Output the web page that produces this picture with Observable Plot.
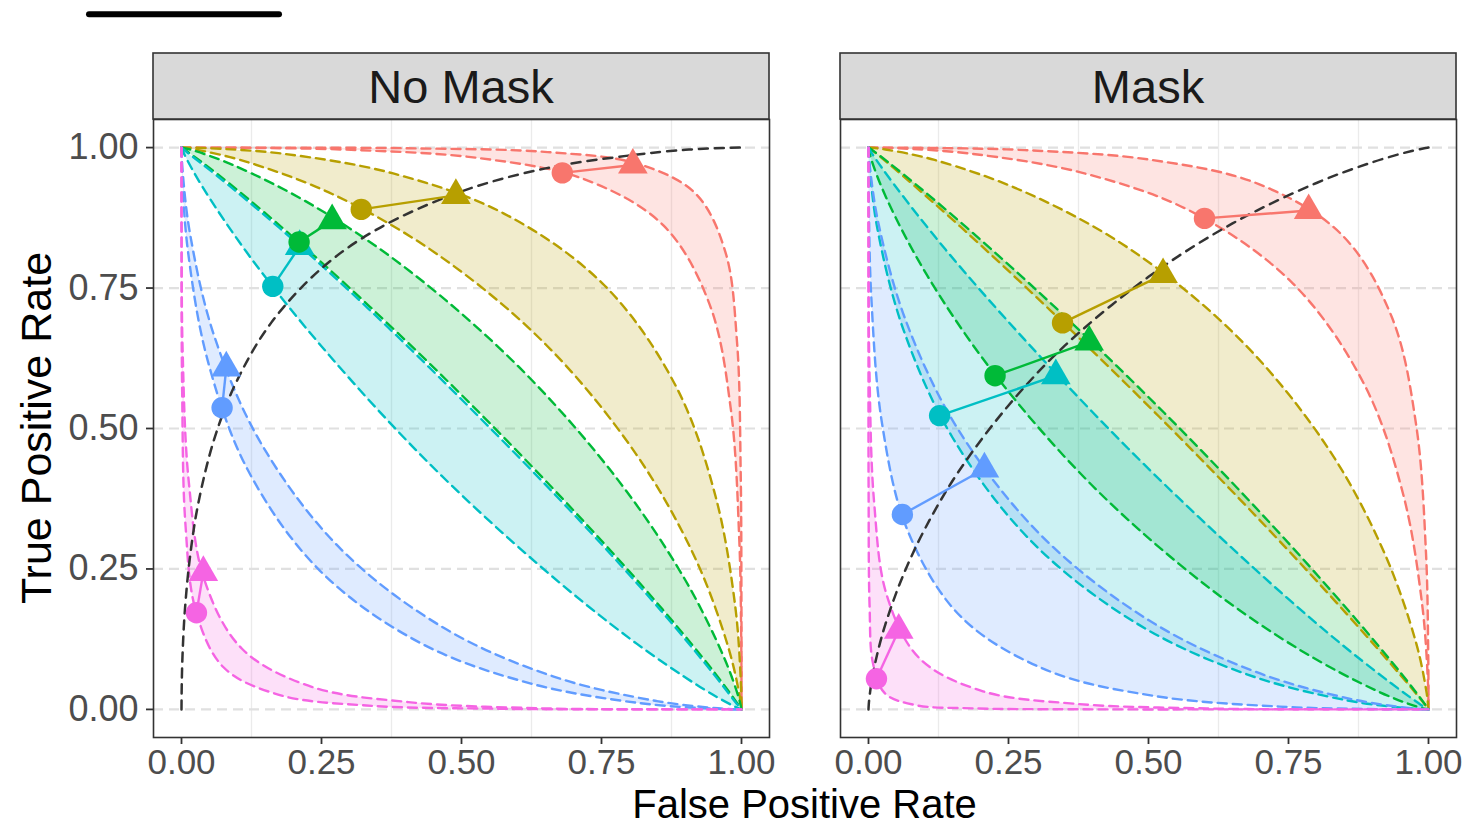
<!DOCTYPE html>
<html>
<head>
<meta charset="utf-8">
<script src="https://cdn.jsdelivr.net/npm/d3@7"></script>
<script src="https://cdn.jsdelivr.net/npm/@observablehq/plot@0.6"></script>
<style>
html, body { margin: 0; padding: 0; background: #ffffff; }
#chart { width: 1473px; height: 827px; }
</style>
</head>
<body>
<div id="chart"></div>
<script>
// ---------- data ----------
const facets = ["No Mask", "Mask"];
const groups = ["g1", "g2", "g3", "g4", "g5", "g6"];
const palette = ["#F8766D", "#B79F00", "#00BA38", "#00BFC4", "#619CFF", "#F564E3"];
const xTicks = [0, 0.25, 0.5, 0.75, 1];
const yTicks = [0, 0.25, 0.5, 0.75, 1];
const xMinor = [0.125, 0.375, 0.625, 0.875];
const xTitle = "False Positive Rate";
const yTitle = "True Positive Rate";

// band edges, No Mask (lower edge, then upper edge), one curve per group
const noMaskLower = [
  [[0,1],[0.017,1],[0.112,0.9996],[0.303,0.996],[0.534,0.981],[0.721,0.943],[0.861,0.861],[0.943,0.721],[0.981,0.534],[0.996,0.303],[0.9996,0.112],[1,0.017],[1,0]],
  [[0,1],[0.0025,0.9998],[0.028,0.996],[0.112,0.976],[0.270,0.917],[0.454,0.812],[0.650,0.650],[0.812,0.454],[0.917,0.270],[0.976,0.112],[0.996,0.028],[0.9998,0.0025],[1,0]],
  [[0,1],[0.0009,0.9995],[0.013,0.991],[0.064,0.953],[0.178,0.859],[0.336,0.717],[0.530,0.530],[0.717,0.336],[0.859,0.178],[0.953,0.064],[0.991,0.013],[0.9995,0.0009],[1,0]],
  [[0,1],[0.0004,0.9989],[0.007,0.984],[0.040,0.926],[0.125,0.802],[0.258,0.637],[0.440,0.440],[0.637,0.258],[0.802,0.125],[0.926,0.040],[0.984,0.007],[0.9989,0.0004],[1,0]],
  [[0,1],[0.00005,0.994],[0.0014,0.947],[0.011,0.820],[0.046,0.624],[0.118,0.427],[0.247,0.247],[0.427,0.118],[0.624,0.046],[0.820,0.011],[0.947,0.0014],[0.994,0.00005],[1,0]],
  [[0,1],[0,0.961],[0.0001,0.805],[0.0012,0.564],[0.007,0.330],[0.026,0.174],[0.075,0.075],[0.174,0.026],[0.330,0.007],[0.564,0.0012],[0.805,0.0001],[0.961,0],[1,0]]
];
const noMaskUpper = [
  [[0,1],[0.036,1],[0.183,0.9999],[0.419,0.9986],[0.654,0.992],[0.815,0.971],[0.918,0.918],[0.971,0.815],[0.992,0.654],[0.9986,0.419],[0.9999,0.183],[1,0.036],[1,0]],
  [[0,1],[0.006,1],[0.054,0.9986],[0.182,0.989],[0.378,0.954],[0.575,0.883],[0.755,0.755],[0.883,0.575],[0.954,0.378],[0.989,0.182],[0.9986,0.054],[1,0.006],[1,0]],
  [[0,1],[0.0017,0.9997],[0.021,0.995],[0.092,0.969],[0.233,0.898],[0.409,0.779],[0.606,0.606],[0.779,0.409],[0.898,0.233],[0.969,0.092],[0.995,0.021],[0.9997,0.0017],[1,0]],
  [[0,1],[0.0008,0.9994],[0.012,0.990],[0.062,0.951],[0.175,0.857],[0.333,0.714],[0.526,0.526],[0.714,0.333],[0.857,0.175],[0.951,0.062],[0.990,0.012],[0.9994,0.0008],[1,0]],
  [[0,1],[0.0001,0.996],[0.002,0.958],[0.015,0.848],[0.058,0.666],[0.143,0.472],[0.285,0.285],[0.472,0.143],[0.666,0.058],[0.848,0.015],[0.958,0.002],[0.996,0.0001],[1,0]],
  [[0,1],[0,0.975],[0.0002,0.855],[0.002,0.640],[0.013,0.405],[0.041,0.230],[0.108,0.108],[0.230,0.041],[0.405,0.013],[0.640,0.002],[0.855,0.0002],[0.975,0],[1,0]]
];
// band edges, Mask
const maskLower = [
  [[0,1],[0.006,1],[0.055,0.9987],[0.184,0.989],[0.382,0.955],[0.579,0.885],[0.758,0.758],[0.885,0.579],[0.955,0.382],[0.989,0.184],[0.9987,0.055],[1,0.006],[1,0]],
  [[0,1],[0.0008,0.9994],[0.012,0.991],[0.061,0.950],[0.171,0.853],[0.326,0.709],[0.520,0.520],[0.709,0.326],[0.853,0.171],[0.950,0.061],[0.991,0.012],[0.9994,0.0008],[1,0]],
  [[0,1],[0.0003,0.9984],[0.005,0.979],[0.032,0.910],[0.105,0.772],[0.225,0.597],[0.399,0.399],[0.597,0.225],[0.772,0.105],[0.910,0.032],[0.979,0.005],[0.9984,0.0003],[1,0]],
  [[0,1],[0.0001,0.996],[0.0023,0.961],[0.016,0.855],[0.062,0.677],[0.150,0.484],[0.295,0.295],[0.484,0.150],[0.677,0.062],[0.855,0.016],[0.961,0.0023],[0.996,0.0001],[1,0]],
  [[0,1],[0,0.987],[0.0005,0.907],[0.005,0.734],[0.024,0.510],[0.070,0.318],[0.165,0.165],[0.318,0.070],[0.510,0.024],[0.734,0.005],[0.907,0.0005],[0.987,0],[1,0]],
  [[0,1],[0,0.904],[0,0.657],[0.0002,0.384],[0.0019,0.186],[0.008,0.082],[0.029,0.029],[0.082,0.008],[0.186,0.0019],[0.384,0.0002],[0.657,0],[0.904,0],[1,0]]
];
const maskUpper = [
  [[0,1],[0.0145,1],[0.100,0.9995],[0.279,0.9955],[0.506,0.978],[0.697,0.935],[0.845,0.845],[0.935,0.697],[0.978,0.506],[0.9955,0.279],[0.9995,0.100],[1,0.0145],[1,0]],
  [[0,1],[0.0027,0.9998],[0.030,0.9966],[0.118,0.978],[0.279,0.921],[0.466,0.820],[0.661,0.661],[0.820,0.466],[0.921,0.279],[0.978,0.118],[0.9966,0.030],[0.9998,0.0027],[1,0]],
  [[0,1],[0.0009,0.9995],[0.013,0.991],[0.063,0.952],[0.176,0.857],[0.334,0.715],[0.528,0.528],[0.715,0.334],[0.857,0.176],[0.952,0.063],[0.991,0.013],[0.9995,0.0009],[1,0]],
  [[0,1],[0.0005,0.9991],[0.0085,0.986],[0.046,0.934],[0.138,0.818],[0.278,0.659],[0.464,0.464],[0.659,0.278],[0.818,0.138],[0.934,0.046],[0.986,0.0085],[0.9991,0.0005],[1,0]],
  [[0,1],[0.0001,0.9965],[0.0026,0.964],[0.018,0.864],[0.067,0.691],[0.159,0.5],[0.309,0.309],[0.5,0.159],[0.691,0.067],[0.864,0.018],[0.964,0.0026],[0.9965,0.0001],[1,0]],
  [[0,1],[0,0.969],[0.0001,0.832],[0.0017,0.604],[0.010,0.369],[0.033,0.202],[0.091,0.091],[0.202,0.033],[0.369,0.010],[0.604,0.0017],[0.832,0.0001],[0.969,0],[1,0]]
];

// black dashed reference curves
const noMaskRoc = [[0,0],[0.0005,0.048],[0.002,0.101],[0.006,0.176],[0.015,0.270],[0.03,0.367],[0.06,0.486],[0.1,0.587],[0.16,0.688],[0.25,0.785],[0.35,0.855],[0.5,0.922],[0.65,0.963],[0.8,0.986],[0.9,0.996],[0.97,0.9993],[1,1]];
const maskRoc = [[0,0],[0.0005,0.009],[0.002,0.024],[0.006,0.052],[0.015,0.096],[0.03,0.151],[0.06,0.234],[0.1,0.320],[0.16,0.422],[0.25,0.541],[0.35,0.647],[0.5,0.770],[0.65,0.865],[0.8,0.937],[0.9,0.974],[0.97,0.994],[1,1]];

// circle and triangle points (one per group)
const noMaskCircleX = [0.680, 0.321, 0.210, 0.163, 0.0725, 0.0267];
const noMaskCircleY = [0.955, 0.890, 0.832, 0.753, 0.537, 0.172];
const noMaskTriangleX = [0.806, 0.490, 0.269, 0.211, 0.080, 0.039];
const noMaskTriangleY = [0.969, 0.915, 0.870, 0.824, 0.608, 0.244];
const maskCircleX = [0.600, 0.3465, 0.226, 0.127, 0.0605, 0.0142];
const maskCircleY = [0.874, 0.688, 0.594, 0.523, 0.347, 0.0546];
const maskTriangleX = [0.786, 0.526, 0.394, 0.3345, 0.207, 0.054];
const maskTriangleY = [0.888, 0.774, 0.654, 0.594, 0.428, 0.141];

// ---------- tables for Plot ----------
const sets = [
  {facet: facets[0], lower: noMaskLower, upper: noMaskUpper, roc: noMaskRoc,
   cx: noMaskCircleX, cy: noMaskCircleY, tx: noMaskTriangleX, ty: noMaskTriangleY},
  {facet: facets[1], lower: maskLower, upper: maskUpper, roc: maskRoc,
   cx: maskCircleX, cy: maskCircleY, tx: maskTriangleX, ty: maskTriangleY}
];
const bandRows = [], edgeRows = [], rocRows = [], pairRows = [];
sets.forEach(s => {
  groups.forEach((g, gi) => {
    const up = s.upper[gi], lo = s.lower[gi];
    up.concat(lo.slice().reverse()).forEach(([x, y]) =>
      bandRows.push({facet: s.facet, group: g, key: s.facet + g, x, y}));
    up.forEach(([x, y]) => edgeRows.push({facet: s.facet, group: g, key: s.facet + g + "u", x, y}));
    lo.forEach(([x, y]) => edgeRows.push({facet: s.facet, group: g, key: s.facet + g + "l", x, y}));
    pairRows.push({facet: s.facet, group: g, cx: s.cx[gi], cy: s.cy[gi], tx: s.tx[gi], ty: s.ty[gi]});
  });
  s.roc.forEach(([x, y]) => rocRows.push({facet: s.facet, x, y}));
});

const W = 1473, H = 827;
const mL = 153, mR = 17, mT = 119, mB = 90;
const gap = 71;
const span = W - mL - mR;
const pInner = gap / ((span + gap) / 2);

const fmt = d3.format(".2f");

const plot = Plot.plot({
  width: W, height: H,
  marginLeft: mL, marginRight: mR, marginTop: mT, marginBottom: mB,
  style: {fontFamily: "'Liberation Sans', Arial, Helvetica, sans-serif", background: "#ffffff", overflow: "visible"},
  x: {domain: [-0.05, 1.05]},
  y: {domain: [-0.05, 1.05]},
  fx: {domain: facets, paddingInner: pInner, paddingOuter: 0, axis: null, label: null},
  color: {domain: groups, range: palette},
  marks: [
    Plot.gridX(xMinor, {stroke: "#EBEBEB", strokeOpacity: 1, strokeWidth: 1.3}),
    Plot.gridY(yTicks, {stroke: "#E0E0E0", strokeOpacity: 1, strokeWidth: 2.2, strokeDasharray: "10,6"}),
    ...groups.map((g, gi) => Plot.line(bandRows.filter(d => d.group === g), {
      x: "x", y: "y", z: "key", fx: "facet",
      fill: palette[gi], fillOpacity: 0.2, stroke: "none", curve: "catmull-rom"
    })),
    Plot.line(edgeRows, {
      x: "x", y: "y", z: "key", fx: "facet", stroke: "group",
      strokeWidth: 2.4, strokeDasharray: "9,6", curve: "catmull-rom"
    }),
    Plot.line(rocRows, {
      x: "x", y: "y", z: "facet", fx: "facet", stroke: "#333333",
      strokeWidth: 2.5, strokeDasharray: "9,7", curve: "catmull-rom"
    }),
    Plot.link(pairRows, {
      x1: "cx", y1: "cy", x2: "tx", y2: "ty", fx: "facet", stroke: "group", strokeWidth: 2.4
    }),
    Plot.dot(pairRows, {x: "tx", y: "ty", fx: "facet", fill: "group", symbol: "triangle", r: 11}),
    Plot.dot(pairRows, {x: "cx", y: "cy", fx: "facet", fill: "group", r: 10.7}),
    Plot.frame({stroke: "#333333", strokeWidth: 1.6}),
    Plot.axisX(xTicks, {
      tickFormat: fmt, tickSize: 7, tickPadding: 5, fontSize: 35,
      fill: "#4D4D4D", stroke: "#333333", strokeWidth: 1.8, label: null
    }),
    Plot.axisY(yTicks, {
      tickFormat: fmt, tickSize: 7, tickPadding: 8, fontSize: 36,
      fill: "#4D4D4D", stroke: "#333333", strokeWidth: 1.8, label: null
    })
  ]
});

document.getElementById("chart").appendChild(plot);

// strips, axis titles and the short rule at top-left
const svg = d3.select(plot);
const fxScale = plot.scale("fx");
const bw = fxScale.bandwidth;
facets.forEach(f => {
  const x0 = fxScale.apply(f);
  svg.append("rect")
    .attr("x", x0).attr("y", 53).attr("width", bw).attr("height", mT - 53)
    .attr("fill", "#D9D9D9").attr("stroke", "#333333").attr("stroke-width", 1.6);
  svg.append("text")
    .attr("x", x0 + bw / 2).attr("y", (53 + mT) / 2).attr("dy", "0.36em")
    .attr("text-anchor", "middle").attr("font-size", 47).attr("fill", "#1A1A1A")
    .text(f);
});
const left = fxScale.apply(facets[0]);
const right = fxScale.apply(facets[1]) + bw;
svg.append("text")
  .attr("x", (left + right) / 2).attr("y", 818.3)
  .attr("text-anchor", "middle").attr("font-size", 40).attr("fill", "#000000")
  .text(xTitle);
svg.append("text")
  .attr("transform", `translate(51,${(mT + H - mB) / 2}) rotate(-90)`)
  .attr("text-anchor", "middle").attr("font-size", 43).attr("fill", "#000000")
  .text(yTitle);
svg.append("line")
  .attr("x1", 89).attr("x2", 279).attr("y1", 14.3).attr("y2", 14.3)
  .attr("stroke", "#000000").attr("stroke-width", 6).attr("stroke-linecap", "round");
</script>
</body>
</html>
